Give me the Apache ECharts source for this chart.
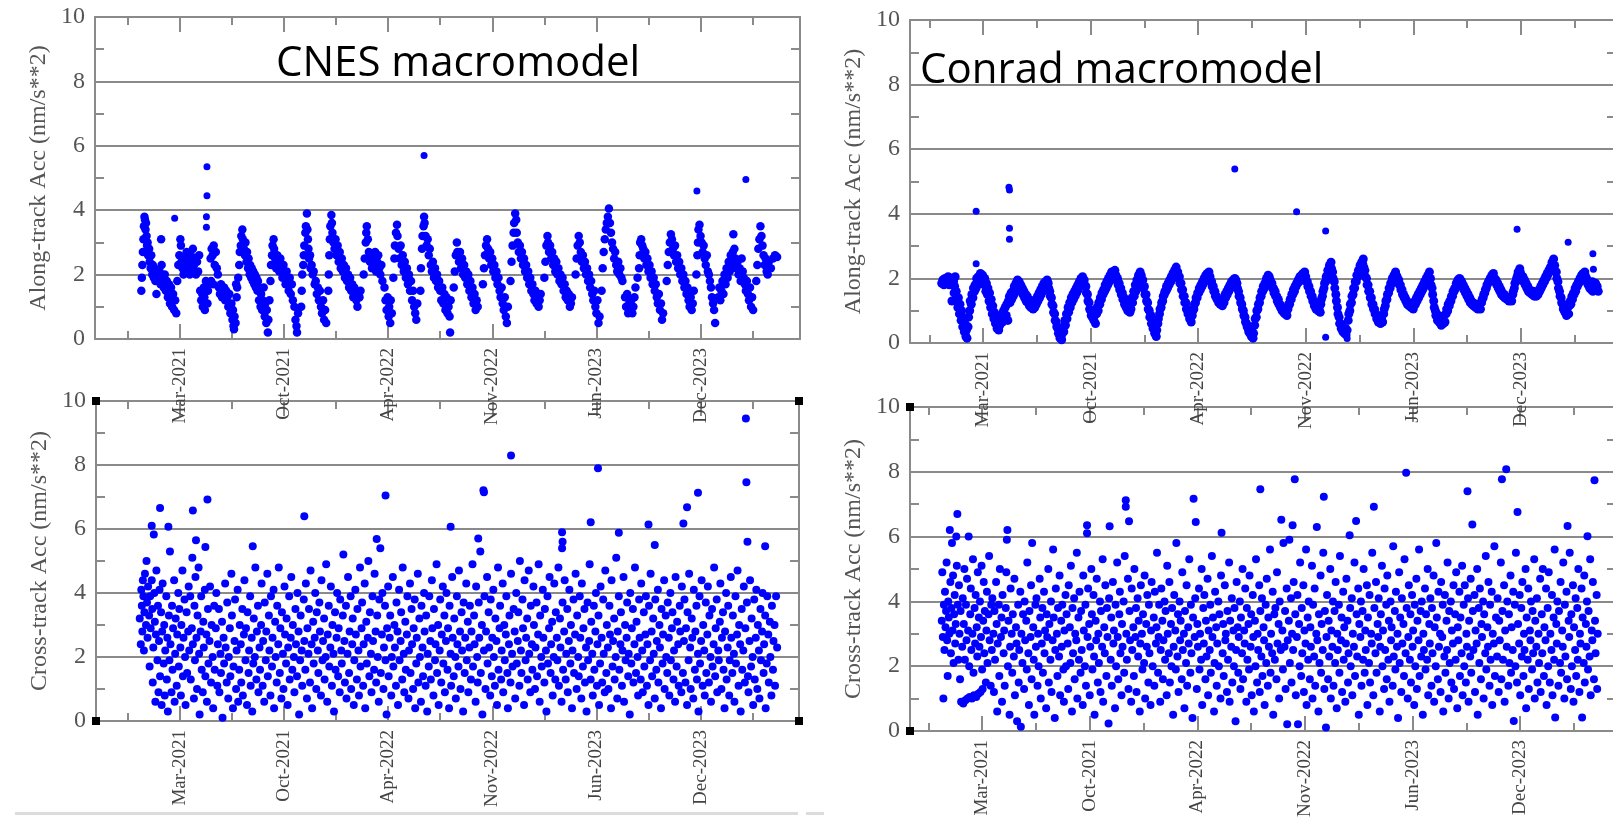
<!DOCTYPE html>
<html>
<head>
<meta charset="utf-8">
<script src="https://cdn.jsdelivr.net/npm/echarts@6/dist/echarts.min.js"></script>
<style>
  html, body { margin: 0; padding: 0; background: #fff; }
  #chart { width: 1613px; height: 818px; }
</style>
</head>
<body>
<div id="chart"></div>
<script>
// x values are days since 2021-01-01
const majorTickDays = [83, 283, 483, 683, 883, 1083]
const majorTickLabels = ['Mar-2021', 'Oct-2021', 'Apr-2022', 'Nov-2022', 'Jun-2023', 'Dec-2023']
const minorTickDays = [-17, 183, 383, 583, 783, 983, 1183]
const panelTitles = ['CNES macromodel', 'Conrad macromodel']
const yAxisNames = ['Along-track Acc (nm/s**2)', 'Cross-track Acc (nm/s**2)']

// CNES, along-track (main band)
const cnesAlong = [
  [9,1.5],[10,1.9],[11,2.3],[12,2.7],[13,3.1],[14,3.5],[15,3.8],[16,3.7],[17,3.4],[18,3.6],[19,3.2],[20,2.9],[21,3.0],[22,2.6],[24,2.8],[25,2.4],[27,2.2],[28,2.6],[30,2.0],[31,2.3],[33,1.9],[34,2.2],[36,1.8],[37,2.1],[38,1.4],[40,2.0],[42,1.8],[44,2.1],[46,1.7],[47,3.1],[48,2.3],[50,1.9],[52,1.6],[54,2.0],[56,1.5],[58,1.8],[60,1.3],[62,1.7],[64,1.1],[66,1.6],[68,1.0],[70,1.4],[72,0.9],[74,1.2],[76,0.8],
  [78,1.8],[80,2.3],[82,2.6],[84,3.1],[85,2.9],[86,2.4],[88,2.2],[90,2.0],[92,2.5],[94,2.3],[96,2.7],[98,2.1],[100,2.4],[102,2.0],[104,2.6],[106,2.2],[108,2.8],[110,2.3],[112,2.5],[114,2.0],[116,2.4],[118,2.1],[120,2.6],
  [122,1.5],[124,1.2],[126,1.4],[127,1.0],[129,1.6],[130,1.3],[131,0.9],[133,1.8],[136,1.1],[137,1.5],[139,1.7],[142,2.5],[143,1.8],[144,2.8],[146,2.6],[147,1.7],[148,2.9],[150,2.3],[152,2.7],[154,2.2],[156,2.0],
  [158,1.6],[160,1.4],[162,1.7],[164,1.3],[166,1.5],[168,1.6],[170,1.2],[172,1.5],[174,1.3],[176,1.0],[178,1.4],[180,0.8],[182,1.1],[184,0.6],[185,0.9],[186,0.4],[187,0.3],[188,0.7],[190,0.5],[191,1.7],[192,1.3],[193,1.6],
  [195,1.9],[197,2.3],[198,2.7],[200,2.9],[201,3.2],[203,3.4],[204,3.1],[206,2.8],[208,2.6],[209,3.0],[211,2.4],[212,2.7],[214,2.2],[215,2.5],[217,2.0],[218,2.3],[220,1.9],[221,2.2],[223,1.8],[224,2.1],[226,1.7],[227,2.0],[229,1.6],[230,1.9],[232,1.5],[233,1.8],[235,1.2],[236,1.6],[238,1.0],[239,1.4],[241,0.9],[242,1.2],[244,1.6],[246,0.7],[247,1.1],[249,0.5],[250,0.9],[252,0.2],[253,0.6],
  [255,1.2],[257,1.8],[258,2.3],[260,2.6],[261,2.9],[263,3.1],[264,2.8],[266,2.5],[268,2.2],[270,2.6],[272,2.4],[274,2.1],[276,2.5],[278,2.2],[280,1.9],[282,2.3],[284,2.0],[286,1.7],[288,2.1],[290,1.8],[292,1.5],[294,1.9],[296,1.4],[298,1.7],[300,1.2],[303,1.0],[305,0.6],[307,0.4],[308,0.2],[310,0.8],
  [316,1.0],[317,1.5],[318,2.0],[320,2.3],[321,2.6],[322,2.9],[324,3.3],[325,3.5],[327,3.9],[328,3.4],[329,3.1],[330,2.8],[331,2.5],[333,2.6],[334,2.2],[336,2.3],[338,2.0],[340,2.1],[342,1.7],[344,1.8],[346,1.4],[348,1.6],[350,1.2],[352,1.5],[354,1.0],[356,0.8],[358,1.2],[360,0.6],[362,0.9],[364,0.5],
  [368,1.5],[369,2.0],[370,2.6],[371,3.1],[372,3.5],[374,3.85],[375,3.6],[376,3.3],[378,3.0],[380,2.8],[382,3.1],[384,2.6],[386,2.9],[388,2.4],[390,2.7],[392,2.2],[394,2.5],[396,2.1],[398,2.3],[400,1.9],[402,2.2],[404,1.8],[406,2.0],[408,1.6],[410,1.9],[412,1.5],[414,1.7],[416,1.3],[418,1.6],[420,1.4],[422,1.2],[424,1.0],[426,1.4],[428,1.3],[430,1.5],
  [436,2.0],[438,2.5],[440,3.0],[441,3.3],[442,3.5],[444,3.1],[446,2.7],[448,2.4],[450,2.6],[452,2.2],[454,2.5],[456,2.3],[458,2.7],[460,2.1],[462,2.4],[464,2.6],[466,2.2],[468,2.0],[470,2.3],[472,1.8],
  [476,1.6],[478,1.2],[480,0.9],[482,1.3],[484,0.7],[485,1.0],[487,0.5],[488,1.2],[490,0.8],[493,1.9],[495,2.5],[496,2.9],[498,3.3],[500,3.55],[501,3.2],[503,2.8],[505,2.5],[507,2.9],[509,2.3],[511,2.6],[513,2.1],[515,2.4],[517,1.9],[519,2.2],[521,1.7],[523,2.0],[525,1.5],[527,1.8],[529,1.2],[531,1.5],[533,1.0],[535,0.8],[537,0.6],[539,1.1],
  [545,1.5],[546,2.2],[548,2.8],[549,3.2],[551,3.5],[552,3.8],[553,3.6],[555,3.2],[557,2.9],[559,3.1],[561,2.6],[563,2.8],[565,2.3],[567,2.1],[569,2.4],[571,1.9],[573,2.2],[575,1.8],[577,2.0],[579,1.6],[581,1.8],[583,1.5],[585,1.2],[587,1.6],[589,1.1],[591,1.4],[593,0.9],[595,1.3],[597,0.8],[599,1.0],[601,0.7],[602,0.2],[603,1.2],
  [609,1.6],[611,2.1],[613,2.6],[615,3.0],[616,2.7],[619,2.4],[621,2.7],[623,2.2],[625,2.5],[627,2.0],[629,2.3],[631,1.9],[633,2.1],[635,1.7],[637,2.0],[639,1.5],[641,1.8],[643,1.3],[645,1.6],[647,1.1],[649,1.4],[651,0.9],[653,1.2],[655,1.0],
  [665,1.7],[667,2.2],[669,2.6],[671,2.9],[673,3.1],[675,2.8],[677,2.5],[679,2.7],[681,2.3],[683,2.5],[685,2.1],[687,2.3],[689,1.9],[691,2.1],[693,1.7],[695,1.9],[697,1.5],[699,1.3],[701,1.6],[703,1.1],[705,0.9],[707,1.3],[709,0.7],[711,0.5],[713,1.0],
  [718,1.8],[720,2.4],[722,2.9],[724,3.3],[725,3.6],[727,3.9],[729,3.7],[730,3.3],[732,3.0],[734,2.7],[736,2.9],[738,2.5],[740,2.7],[742,2.3],[744,2.5],[746,2.1],[748,2.3],[750,1.9],[752,2.1],[754,1.7],[756,1.9],[758,1.5],[760,1.7],[762,1.4],[764,1.2],[766,1.5],[768,1.1],[770,1.3],[772,1.0],[774,1.2],[776,1.4],
  [783,1.9],[785,2.4],[787,2.9],[789,3.2],[790,3.0],[792,2.7],[794,2.9],[796,2.5],[798,2.7],[800,2.3],[802,2.5],[804,2.1],[806,2.4],[808,2.0],[810,2.2],[812,1.8],[814,2.0],[816,1.7],[818,1.9],[820,1.5],[822,1.7],[824,1.3],[826,1.5],[828,1.2],[830,1.4],[832,1.0],[834,1.1],[836,1.3],
  [843,2.0],[845,2.5],[847,2.9],[849,3.2],[851,3.0],[853,2.7],[855,2.4],[857,2.6],[859,2.2],[861,2.4],[863,2.0],[865,2.2],[867,1.8],[869,2.0],[871,1.6],[873,1.8],[875,1.4],[877,1.2],[879,1.5],[881,1.0],[883,0.8],[885,1.2],[887,0.5],[889,0.7],
  [893,1.5],[895,2.2],[897,2.7],[899,3.1],[901,3.4],[903,3.6],[905,3.8],[907,4.05],[909,3.6],[911,3.3],[913,3.0],[915,2.8],[917,2.5],[919,2.7],[921,2.3],[923,2.1],[925,2.4],[927,2.0],[929,2.2],[931,1.9],[933,1.8],
  [938,1.3],[940,1.0],[942,1.4],[944,0.8],[946,1.1],[948,0.9],[950,1.2],[952,0.8],[954,1.0],[956,1.3],[958,1.6],[962,1.9],[965,2.2],[966,2.6],[967,3.0],[969,3.1],[971,2.9],[973,2.8],[975,2.5],[977,2.7],[979,2.3],[981,2.5],[983,2.1],[985,2.3],[987,1.9],[989,2.1],[991,1.7],[993,1.9],[995,1.5],[997,1.7],[999,1.3],[1001,1.1],[1003,1.4],[1005,0.9],[1007,1.1],[1009,0.6],[1011,0.8],
  [1018,1.8],[1020,2.3],[1022,2.7],[1024,3.0],[1026,3.25],[1028,3.1],[1030,2.8],[1032,2.6],[1034,2.9],[1036,2.4],[1038,2.6],[1040,2.2],[1042,2.4],[1044,2.0],[1046,2.2],[1048,1.8],[1050,2.0],[1052,1.6],[1054,1.8],[1056,1.4],[1058,1.6],[1060,1.2],[1062,1.0],[1064,1.3],[1066,0.9],[1068,1.1],[1070,1.5],
  [1075,2.0],[1077,2.6],[1078,3.0],[1079,3.4],[1081,3.55],[1083,3.2],[1085,3.0],[1087,2.7],[1089,2.9],[1091,2.5],[1093,2.3],[1095,2.6],[1097,2.1],[1099,2.0],[1101,1.8],[1103,1.6],[1105,1.3],[1107,1.1],[1109,0.9],[1111,0.5],
  [1117,1.3],[1119,1.6],[1121,1.2],[1123,1.5],[1125,1.8],[1127,1.4],[1129,2.0],[1131,1.7],[1133,2.2],[1135,1.9],[1137,2.4],[1139,2.1],[1141,2.6],[1143,2.3],[1145,2.7],[1146,3.25],[1148,2.8],[1150,2.5],[1152,2.2],[1154,2.4],[1156,2.0],[1158,2.2],[1160,1.8],[1162,2.5],[1164,2.1],[1166,1.9],[1168,1.7],[1170,1.5],[1172,1.8],[1174,1.4],[1176,1.2],[1178,1.6],[1180,1.0],[1182,1.3],[1184,0.9],
  [1190,1.8],[1192,2.3],[1194,2.8],[1196,3.1],[1198,3.5],[1200,3.2],[1202,2.9],[1204,2.6],[1206,2.3],[1208,2.5],[1210,2.1],[1212,2.0],[1214,2.4],[1218,2.2],[1222,2.5],[1226,2.6],[1230,2.55]
]
// CNES, along-track: isolated points
const cnesAlongOutliers = [[73,3.75],[134,3.47],[134,3.8],[135,4.45],[135,5.35],[552,5.7],[1076,4.6],[1170,4.95]]

// Conrad, along-track (main band)
const conradAlong = [
  [6,1.85],[8,1.95],[10,1.8],[12,2.0],[14,1.85],[16,1.9],[18,2.05],[20,1.8],[22,1.95],[24,1.85],[25,1.3],[26,2.0],[28,1.9],[29,1.55],[30,1.75],[31,2.05],
  [33,1.6],[34,1.3],[36,1.1],[37,1.4],[39,0.9],[40,1.2],[42,0.7],[43,1.0],[45,0.5],[46,0.8],[48,0.35],[49,0.6],[51,0.2],[52,0.4],[53,0.15],
  [55,0.5],[56,0.8],[58,1.0],[59,1.3],[61,1.2],[62,1.5],[64,1.4],[65,1.7],[67,1.6],[68,1.8],[70,1.7],[71,2.0],[73,1.8],[74,2.05],[76,1.9],[78,2.15],[80,1.95],[82,2.1],[83,2.0],
  [85,1.8],[86,2.0],[88,1.6],[89,1.85],[91,1.5],[92,1.7],[94,1.3],[95,1.55],[97,1.1],[98,1.35],[100,0.9],[101,1.15],[103,0.75],[104,0.95],[106,0.6],[107,0.8],[109,0.45],[110,0.65],[112,0.4],[114,0.55],
  [116,0.7],[118,0.9],[119,0.65],[121,1.0],[122,0.75],[124,1.1],[126,0.85],[127,1.2],[129,0.7],[130,1.3],[132,1.45],[133,1.25],[135,1.55],[136,1.35],[138,1.6],[139,1.45],[141,1.75],[142,1.55],[144,1.85],[145,1.65],[147,1.95],[148,1.8],
  [150,1.9],[151,1.7],[153,1.8],[154,1.6],[156,1.7],[157,1.5],[159,1.6],[160,1.4],[162,1.5],[163,1.3],[165,1.45],[166,1.25],[168,1.35],[169,1.15],[171,1.3],[172,1.1],[174,1.2],[176,1.05],
  [178,1.25],[179,1.1],[181,1.35],[182,1.2],[184,1.45],[185,1.3],[187,1.55],[188,1.4],[190,1.65],[191,1.5],[193,1.75],[194,1.6],[196,1.85],[197,1.7],[199,1.9],[200,1.8],[202,1.95],
  [204,1.85],[205,1.7],[207,1.6],[208,1.45],[210,1.4],[211,1.2],[213,1.15],[214,0.95],[216,0.9],[217,0.7],[219,0.65],[220,0.5],[222,0.45],[223,0.3],[225,0.25],[226,0.15],[228,0.2],[229,0.1],[230,0.3],
  [232,0.5],[233,0.35],[235,0.7],[236,0.55],[238,0.9],[239,0.75],[241,1.1],[242,0.95],[244,1.25],[245,1.1],[247,1.4],[248,1.25],[250,1.5],[251,1.35],[253,1.6],[254,1.45],[256,1.7],[257,1.55],[259,1.8],[260,1.65],[262,1.9],[263,1.75],[265,2.0],[266,1.85],[268,2.05],[269,1.9],
  [271,1.95],[272,1.8],[274,1.75],[275,1.55],[277,1.5],[278,1.3],[280,1.25],[281,1.05],[283,1.0],[284,0.85],[286,0.8],[287,0.95],[289,0.7],[290,0.85],[292,0.6],
  [294,0.9],[295,1.1],[297,1.0],[298,1.25],[300,1.2],[301,1.4],[303,1.35],[304,1.55],[306,1.5],[307,1.65],[309,1.6],[310,1.8],[312,1.7],[313,1.9],[315,1.8],[316,2.0],[318,1.9],[319,2.1],[321,2.0],[322,2.2],[324,2.05],[325,2.2],[327,2.1],[328,2.25],
  [330,2.1],[331,1.95],[333,2.0],[334,1.8],[336,1.85],[337,1.65],[339,1.7],[340,1.5],[342,1.55],[343,1.35],[345,1.4],[346,1.2],[348,1.25],[349,1.1],[351,1.15],[352,1.0],[354,1.1],[356,0.95],
  [357,1.2],[358,1.05],[360,1.4],[361,1.25],[363,1.6],[364,1.45],[366,1.8],[367,1.6],[369,1.95],[370,1.8],[372,2.1],[373,1.95],[375,2.2],
  [377,2.1],[378,1.9],[380,1.95],[381,1.7],[383,1.75],[384,1.5],[386,1.5],[387,1.3],[389,1.25],[390,1.05],[392,1.0],[393,0.8],[395,0.85],[396,0.6],[398,0.65],[399,0.45],[401,0.5],[402,0.3],[404,0.35],[405,0.2],[406,0.4],
  [408,0.6],[409,0.75],[411,0.9],[412,1.05],[414,1.1],[415,1.25],[417,1.3],[418,1.45],[420,1.5],[421,1.6],[423,1.6],[424,1.75],[426,1.7],[427,1.85],[429,1.8],[430,1.95],[432,1.9],[433,2.05],[435,2.0],[436,2.15],[438,2.1],[439,2.25],[441,2.2],[442,2.35],[443,2.15],
  [445,2.2],[446,2.0],[448,2.05],[449,1.85],[451,1.85],[452,1.65],[454,1.65],[455,1.45],[457,1.45],[458,1.25],[460,1.25],[461,1.05],[463,1.05],[464,0.9],[466,0.9],[467,0.75],[469,0.8],[470,0.65],
  [472,0.85],[473,1.0],[475,1.05],[476,1.2],[478,1.25],[479,1.4],[481,1.4],[482,1.55],[484,1.55],[485,1.7],[487,1.65],[488,1.8],[490,1.75],[491,1.9],[493,1.85],[494,2.0],[496,1.95],[497,2.1],[499,2.0],[500,2.15],[502,2.05],[503,2.2],
  [505,2.05],[506,1.9],[508,1.9],[509,1.75],[511,1.75],[512,1.6],[514,1.6],[515,1.45],[517,1.45],[518,1.35],[520,1.35],[521,1.25],[523,1.3],[524,1.2],[526,1.25],[528,1.15],
  [530,1.35],[531,1.25],[533,1.5],[534,1.4],[536,1.6],[537,1.5],[539,1.7],[540,1.6],[542,1.8],[543,1.7],[545,1.9],[546,1.8],[548,1.95],[549,1.85],[551,2.0],[553,1.95],
  [555,1.85],[556,1.7],[558,1.6],[559,1.45],[561,1.4],[562,1.25],[564,1.2],[565,1.05],[567,1.0],[568,0.85],[570,0.8],[571,0.65],[573,0.6],[574,0.5],[576,0.45],[577,0.35],[579,0.3],[580,0.45],[582,0.2],[583,0.35],[585,0.15],[586,0.3],
  [588,0.55],[589,0.75],[591,0.8],[592,1.0],[594,1.05],[595,1.2],[597,1.25],[598,1.4],[600,1.45],[601,1.6],[603,1.6],[604,1.75],[606,1.7],[607,1.85],[609,1.85],[610,2.0],[612,1.95],[613,2.1],[615,2.05],
  [617,1.95],[618,1.8],[620,1.85],[621,1.7],[623,1.7],[624,1.55],[626,1.6],[627,1.45],[629,1.45],[630,1.3],[632,1.35],[633,1.2],[635,1.2],[636,1.1],[638,1.1],[639,1.0],[641,1.0],[642,0.95],[644,0.9],[646,1.0],[648,0.85],
  [650,1.05],[651,1.2],[653,1.2],[654,1.35],[656,1.35],[657,1.5],[659,1.5],[660,1.65],[662,1.6],[663,1.75],[665,1.75],[666,1.85],[668,1.85],[669,1.95],[671,1.9],[672,2.05],[674,2.0],[675,2.1],[677,2.0],[678,2.15],[680,2.05],[681,2.2],
  [683,2.05],[684,1.9],[686,1.9],[687,1.75],[689,1.75],[690,1.6],[692,1.6],[693,1.45],[695,1.45],[696,1.3],[698,1.3],[699,1.15],[701,1.2],[702,1.05],[704,1.1],[706,1.0],[708,1.05],[710,0.95],
  [711,1.2],[712,1.35],[714,1.45],[715,1.6],[717,1.7],[718,1.85],[720,1.9],[721,2.05],[723,2.1],[724,2.25],[726,2.25],[727,2.4],[729,2.35],[730,2.5],[731,2.3],
  [733,2.2],[734,2.0],[736,1.9],[737,1.7],[739,1.5],[740,1.3],[742,1.1],[743,0.9],[745,0.8],[746,0.6],[748,0.6],[749,0.45],[751,0.5],[752,0.35],[754,0.4],[755,0.3],[757,0.45],[758,0.25],[760,0.4],
  [762,0.7],[763,0.9],[765,1.0],[766,1.2],[768,1.25],[769,1.45],[771,1.5],[772,1.7],[774,1.7],[775,1.9],[777,1.9],[778,2.1],[780,2.05],[781,2.25],[783,2.2],[784,2.4],[786,2.3],[787,2.5],[789,2.45],[790,2.6],[791,2.35],
  [793,2.25],[794,2.05],[796,2.0],[797,1.8],[799,1.8],[800,1.6],[802,1.6],[803,1.4],[805,1.4],[806,1.2],[808,1.2],[809,1.05],[811,1.05],[812,0.9],[814,0.9],[815,0.75],[817,0.8],[818,0.65],[820,0.7],[822,0.6],[824,0.75],[826,0.65],
  [828,0.9],[829,1.05],[831,1.15],[832,1.3],[834,1.35],[835,1.5],[837,1.55],[838,1.7],[840,1.7],[841,1.85],[843,1.85],[844,2.0],[846,1.95],[847,2.1],[849,2.05],[850,2.2],[851,2.1],
  [853,2.05],[854,1.9],[856,1.95],[857,1.8],[859,1.8],[860,1.65],[862,1.65],[863,1.5],[865,1.5],[866,1.4],[868,1.4],[869,1.3],[871,1.3],[872,1.2],[874,1.25],[875,1.15],[877,1.2],[879,1.1],[881,1.2],[883,1.05],[884,1.15],
  [886,1.3],[887,1.2],[889,1.4],[890,1.3],[892,1.5],[893,1.4],[895,1.6],[896,1.5],[898,1.7],[899,1.6],[901,1.8],[902,1.7],[904,1.9],[905,1.8],[907,2.0],[908,1.9],[910,2.1],[911,2.0],[913,2.2],
  [915,2.0],[916,1.8],[918,1.7],[919,1.5],[921,1.3],[922,1.1],[924,1.0],[925,0.85],[927,0.9],[928,0.7],[930,0.8],[931,0.65],[933,0.7],[935,0.55],[937,0.75],[939,0.6],[940,0.85],[942,0.65],
  [944,0.9],[945,1.05],[947,1.0],[948,1.2],[950,1.15],[951,1.3],[953,1.3],[954,1.45],[956,1.45],[957,1.6],[959,1.6],[960,1.7],[962,1.7],[963,1.85],[965,1.8],[966,1.95],[968,1.9],[969,2.0],[971,1.95],
  [973,1.9],[974,1.75],[976,1.8],[977,1.65],[979,1.7],[980,1.55],[982,1.6],[983,1.45],[985,1.5],[986,1.35],[988,1.4],[989,1.25],[991,1.3],[992,1.2],[994,1.25],[995,1.15],[997,1.2],[999,1.1],[1001,1.2],[1003,1.05],[1005,1.15],[1008,1.05],
  [1010,1.25],[1011,1.35],[1013,1.4],[1014,1.5],[1016,1.55],[1017,1.65],[1019,1.7],[1020,1.8],[1022,1.85],[1023,1.9],[1025,1.95],[1026,2.0],[1028,2.0],[1029,2.1],[1031,2.05],[1032,2.15],
  [1034,2.0],[1035,1.9],[1037,1.95],[1038,1.8],[1040,1.85],[1041,1.7],[1043,1.75],[1044,1.6],[1046,1.65],[1047,1.5],[1049,1.55],[1050,1.45],[1052,1.5],[1053,1.4],[1055,1.45],[1057,1.35],[1059,1.4],[1061,1.3],[1063,1.4],[1066,1.3],
  [1068,1.5],[1069,1.6],[1071,1.7],[1072,1.85],[1074,1.9],[1075,2.0],[1077,2.1],[1078,2.2],[1080,2.15],[1081,2.3],[1082,2.2],
  [1084,2.1],[1085,2.0],[1087,2.05],[1088,1.9],[1090,1.95],[1091,1.8],[1093,1.85],[1094,1.7],[1096,1.75],[1097,1.6],[1099,1.65],[1100,1.55],[1102,1.6],[1104,1.5],[1106,1.6],[1108,1.45],[1110,1.55],[1112,1.45],[1115,1.5],
  [1117,1.65],[1118,1.6],[1120,1.75],[1121,1.7],[1123,1.85],[1124,1.8],[1126,1.95],[1127,1.9],[1129,2.05],[1130,2.0],[1132,2.15],[1133,2.1],[1135,2.25],[1136,2.2],[1138,2.35],[1139,2.3],[1141,2.5],[1142,2.4],[1144,2.6],
  [1146,2.4],[1147,2.2],[1149,2.2],[1150,2.0],[1152,1.9],[1153,1.7],[1155,1.6],[1156,1.45],[1158,1.4],[1159,1.25],[1161,1.2],[1162,1.05],[1164,1.1],[1165,0.95],[1167,1.0],[1168,0.85],[1170,1.1],[1172,0.9],[1173,1.15],
  [1175,1.3],[1176,1.2],[1178,1.45],[1179,1.35],[1181,1.55],[1182,1.5],[1184,1.7],[1185,1.6],[1187,1.8],[1188,1.75],[1190,1.9],[1191,1.85],[1193,2.0],[1194,1.95],[1196,2.1],[1197,2.05],[1199,2.15],[1200,2.1],[1202,2.2],
  [1204,2.05],[1205,1.9],[1207,1.95],[1208,1.8],[1210,1.85],[1211,1.7],[1213,1.75],[1214,1.65],[1216,1.9],[1217,1.6],[1219,1.8],[1220,1.65],[1222,1.85],[1223,1.7],[1225,1.75],[1227,1.6]
]
// Conrad, along-track: isolated points
const conradAlongOutliers = [[70,4.08],[70,2.45],[131,4.82],[132,4.74],[132,3.55],[132,3.21],[551,5.39],[666,4.06],[720,3.47],[720,0.18],[760,0.14],[1076,3.52],[1171,3.12],[1217,2.76],[1218,2.28]]

// CNES, cross-track
const cnesCross = [
  [6,3.2],[8,2.4],[9,4.1],[10,3.6],[11,2.8],[12,4.4],[13,3.9],[14,2.2],[15,3.4],[16,4.6],[18,3.0],[19,5.0],[20,3.7],[21,2.6],[22,4.2],[24,3.3],[25,1.7],[26,3.9],[27,2.9],[29,4.4],[29,6.1],[30,3.5],[31,1.2],[32,2.3],[33,5.83],[34,4.0],[35,3.1],[36,0.6],[37,2.7],[38,4.7],[40,1.9],[41,3.6],[42,0.9],[43,2.5],[44,4.1],[45,1.4],[45,6.66],
  [47,3.4],[48,0.5],[49,2.8],[50,4.3],[52,1.8],[53,3.0],[54,0.8],[55,2.2],[57,3.9],[58,1.3],[59,2.6],[60,0.3],[61,6.07],[62,3.3],[63,1.9],[64,5.3],[65,2.4],[67,0.9],[68,3.6],[69,1.6],[70,2.9],[72,4.4],[73,0.6],[74,2.1],[75,3.2],[77,1.1],[78,2.7],[80,4.0],[81,1.7],[82,3.5],[84,2.3],[85,0.8],[86,3.0],[88,4.7],[89,1.4],[90,2.6],[92,3.8],[93,2.0],[94,0.5],[96,3.4],[97,1.5],[99,2.8],[100,4.2],[101,2.2],
  [103,3.9],[104,1.3],[106,2.9],[107,5.1],[108,2.4],[108,6.58],[110,0.7],[111,3.6],[112,1.9],[113,4.5],[114,5.65],[115,2.6],[116,1.0],[117,3.3],[119,4.8],[120,2.1],[121,0.2],[123,2.8],[124,3.9],[125,1.6],[127,0.9],[128,3.1],[129,2.3],[131,4.1],[132,1.4],[132,5.44],[134,2.7],[135,0.6],[136,6.92],[137,3.5],[138,1.8],[140,2.5],[141,4.2],[143,1.2],[144,3.0],[146,2.0],[147,0.4],[149,3.6],[150,1.6],[152,2.9],[153,4.0],[155,1.1],[156,2.4],
  [158,3.5],[159,0.9],[161,2.1],[162,1.5],[164,3.1],[165,0.1],[167,2.6],[168,1.8],[170,4.3],[171,2.3],[173,1.2],[174,3.7],[176,0.7],[177,2.0],[179,2.9],[180,1.4],[182,4.6],[183,3.3],[185,0.4],[186,1.7],[188,2.5],[189,3.8],[191,1.0],[192,2.2],[194,4.1],[195,0.6],[197,1.6],[198,3.0],[200,2.4],[201,1.2],[203,3.5],[204,0.8],[206,2.7],[207,4.4],[209,1.9],[210,2.9],[212,0.5],[213,3.4],[215,1.5],[216,2.2],[218,3.9],[219,1.1],[221,2.6],[222,0.3],[223,5.46],[224,1.8],[225,3.2],[227,2.0],[228,4.8],[230,1.3],[231,2.8],[233,3.6],[234,0.9],[236,2.3],[237,1.6],
  [239,3.0],[240,4.3],[242,1.1],[243,2.5],[245,0.6],[246,3.7],[248,1.9],[249,2.8],[251,4.6],[252,1.4],[254,3.3],[255,2.2],[257,0.8],[258,3.9],[260,1.7],[261,2.6],[263,4.1],[264,0.4],[266,3.1],[267,2.0],[269,1.2],[270,3.6],[272,2.4],[273,4.8],[275,1.5],[276,2.9],[278,0.7],[279,3.4],[281,2.1],[282,1.0],[284,4.2],[285,2.7],[287,1.8],[288,3.2],[290,0.5],[291,2.3],[293,3.9],[294,1.3],[296,2.6],[297,4.5],[299,1.6],[300,3.0],[302,2.0],[303,0.9],[305,3.5],[306,2.4],[308,1.4],[309,4.0],[311,2.8],[312,0.2],[314,1.9],[315,3.3],[317,2.2],[318,1.1],
  [321,3.8],[322,2.5],[322,6.4],[324,1.6],[325,4.3],[327,0.7],[328,2.9],[330,2.1],[331,3.5],[333,1.2],[334,4.7],[336,2.4],[337,0.4],[339,3.1],[340,1.8],[342,2.6],[343,4.0],[345,1.0],[346,3.4],[348,2.2],[349,1.5],[351,3.7],[352,2.8],[354,0.8],[355,4.4],[357,1.9],[358,2.5],[360,3.2],[361,1.3],[363,2.0],[364,4.9],[366,0.6],[367,2.7],[369,3.6],[370,1.7],[372,2.3],[373,4.2],[375,1.1],[376,3.0],[378,2.1],[379,0.3],[381,3.4],[382,1.6],[384,2.6],[385,4.0],[387,1.4],[388,2.9],[390,0.9],[391,3.8],[393,2.2],[394,1.8],[396,3.3],[397,5.2],[399,2.5],[400,1.2],
  [402,3.6],[403,0.7],[405,2.1],[406,4.5],[408,1.5],[409,2.8],[411,3.9],[412,1.0],[414,2.4],[415,3.2],[417,0.5],[418,1.9],[420,4.1],[421,2.7],[423,1.3],[424,3.5],[426,2.2],[427,0.8],[429,4.8],[430,1.7],[432,2.9],[433,3.7],[435,1.1],[436,2.4],[438,4.3],[439,0.4],[441,3.1],[442,1.8],[444,2.6],[445,5.0],[447,1.4],[448,3.4],[450,2.1],[451,0.9],[453,3.9],[454,2.5],[456,1.6],[457,4.6],[459,2.8],[460,1.2],[461,5.69],[462,3.3],[463,2.0],[465,0.6],[466,3.8],[468,5.4],[469,1.5],[471,2.7],[472,4.0],[474,1.0],[475,2.3],[477,3.6],[478,1.9],[478,7.05],[480,0.2],[481,2.9],
  [483,4.2],[484,1.4],[486,2.6],[487,3.3],[489,0.8],[490,2.0],[492,4.5],[493,1.7],[495,3.0],[496,2.3],[498,1.1],[499,3.7],[501,2.8],[502,0.5],[504,4.1],[505,1.9],[507,2.5],[508,3.4],[510,1.3],[511,4.8],[513,2.1],[514,0.9],[516,3.1],[517,1.6],[519,2.7],[520,3.9],[522,0.7],[523,2.2],[525,4.3],[526,1.5],[528,3.5],[529,2.4],[531,1.0],[532,2.9],[534,3.8],[535,0.4],[537,1.8],[538,2.6],[540,4.6],[541,1.2],[543,3.2],[544,2.0],[546,0.6],[547,3.6],[549,2.3],[550,1.4],[552,4.0],[553,2.8],[555,1.1],[556,3.3],[558,0.3],[559,2.1],[561,1.7],[562,3.9],
  [564,2.5],[565,1.3],[567,4.4],[568,2.9],[570,0.8],[571,3.5],[573,1.9],[574,2.4],[576,4.9],[577,1.5],[579,3.0],[580,0.5],[582,2.2],[583,3.8],[585,1.2],[586,2.7],[588,4.2],[589,1.8],[591,3.3],[592,0.9],[594,2.5],[595,4.0],[597,1.6],[598,2.9],[600,0.4],[601,3.6],[603,2.1],[603,6.07],[604,1.1],[606,4.5],[607,2.6],[609,1.4],[610,3.2],[612,2.0],[613,0.7],[615,3.9],[616,2.4],[618,1.7],[619,4.7],[621,2.8],[622,1.0],[624,3.4],[625,2.2],[627,0.3],[628,3.7],[630,1.5],[631,2.6],[633,4.3],[634,1.9],[636,3.1],[637,0.9],[639,2.3],[640,3.6],[642,1.3],[643,2.8],
  [645,4.9],[646,1.7],[648,3.3],[649,2.4],[651,0.6],[652,4.2],[654,2.0],[655,1.2],[656,5.7],[657,3.7],[658,2.6],[660,5.3],[661,1.5],[663,3.0],[664,0.2],[666,7.21],[667,7.15],[667,2.2],[668,3.9],[670,1.0],[671,2.8],[673,4.5],[674,1.8],[676,3.4],[677,2.3],[679,0.8],[680,3.8],[682,1.4],[683,2.6],[685,4.1],[686,2.0],[688,1.1],[689,3.2],[691,2.5],[692,0.5],[694,4.8],[695,1.6],[697,2.9],[698,3.6],[700,1.3],[701,2.2],[703,4.3],[704,0.9],[706,3.0],[707,1.9],[709,2.7],[710,3.9],[712,1.5],[713,0.4],[715,2.4],[716,3.3],[718,1.2],[719,4.6],[719,8.3],[721,2.1],[722,1.7],[724,3.5],
  [726,2.8],[727,0.7],[729,4.0],[730,1.8],[732,2.5],[733,3.4],[735,1.1],[736,5.0],[738,2.2],[739,1.5],[741,3.8],[742,2.9],[744,0.5],[745,4.4],[747,1.9],[748,2.6],[750,3.2],[751,1.3],[753,4.7],[754,2.1],[756,0.9],[757,3.6],[759,2.4],[760,1.6],[762,4.2],[763,3.0],[765,1.0],[766,2.3],[768,3.7],[769,1.4],[771,2.7],[772,4.9],[774,0.6],[775,3.3],[777,2.0],[778,1.7],[780,4.1],[781,2.6],[783,1.2],[784,3.5],[786,2.2],[787,0.3],[789,3.9],[790,1.8],[792,2.9],[793,4.5],[795,1.5],[796,2.4],[798,3.1],[799,0.8],[801,2.0],[802,4.3],[804,1.3],[805,3.4],
  [807,2.6],[808,1.9],[810,4.8],[811,1.1],[813,3.2],[814,2.3],[816,0.6],[817,5.9],[817,5.4],[818,5.6],[818,3.7],[819,1.6],[821,2.8],[822,4.4],[824,1.3],[825,2.1],[827,3.5],[828,0.9],[830,2.5],[831,4.1],[833,1.8],[834,3.0],[836,0.4],[837,2.2],[839,3.8],[840,1.5],[842,2.7],[843,4.6],[845,1.0],[846,3.3],[848,2.0],[849,1.4],[851,3.9],[852,2.6],[854,0.7],[855,4.3],[857,1.7],[858,2.9],[860,3.5],[861,1.2],[863,2.3],[864,0.3],[866,3.7],[867,1.9],[869,2.5],[870,4.9],[872,1.3],[872,6.21],[873,3.1],[875,2.1],[876,0.8],[878,3.6],[879,1.6],[881,2.8],[882,4.0],[884,1.1],[885,2.4],
  [886,7.9],[887,3.3],[888,0.5],[890,1.8],[891,4.2],[893,2.6],[894,1.2],[896,3.8],[897,2.1],[899,0.9],[900,4.7],[902,1.5],[903,3.0],[905,2.3],[906,1.0],[908,3.6],[909,2.7],[911,0.4],[912,4.4],[914,1.7],[915,2.5],[917,3.2],[918,1.3],[920,2.0],[921,5.1],[923,0.7],[924,2.8],[926,3.9],[926,5.88],[927,1.6],[929,2.4],[930,3.4],[932,1.1],[933,2.2],[935,4.5],[936,0.6],[938,3.0],[939,1.9],[941,2.6],[942,3.7],[944,1.4],[945,2.1],[947,0.2],[948,4.0],[950,1.8],[951,2.9],[953,3.5],[954,1.2],[956,2.4],[957,4.8],[959,1.5],[960,3.1],[962,2.0],[963,0.8],[965,3.8],[966,2.6],
  [968,1.3],[969,4.3],[971,2.2],[972,0.9],[974,3.4],[975,1.7],[977,2.7],[978,3.9],[980,1.1],[981,2.4],[983,0.5],[983,6.14],[984,3.6],[986,1.9],[987,4.6],[989,2.8],[990,1.4],[992,3.2],[993,2.1],[995,0.7],[995,5.5],[996,3.8],[998,1.6],[999,2.5],[1001,4.1],[1002,1.2],[1004,3.0],[1005,2.3],[1007,0.4],[1008,3.5],[1010,1.8],[1011,2.7],[1013,4.4],[1014,1.0],[1016,3.3],[1017,2.0],[1019,1.5],[1020,3.7],[1022,2.6],[1023,0.8],[1025,4.0],[1026,1.9],[1028,2.9],[1029,3.4],[1031,1.3],[1032,2.2],[1034,0.6],[1035,4.5],[1037,1.7],[1038,3.1],[1040,2.4],[1041,1.1],[1043,3.6],[1044,2.8],[1046,0.9],[1047,4.2],
  [1049,1.5],[1050,6.17],[1051,2.5],[1052,3.8],[1054,1.2],[1055,2.9],[1057,0.5],[1057,6.68],[1058,3.4],[1060,1.9],[1061,4.6],[1063,2.3],[1064,1.0],[1066,3.2],[1067,2.6],[1069,0.7],[1070,4.1],[1072,1.6],[1073,2.8],[1075,3.6],[1076,1.3],[1078,2.1],[1078,7.13],[1079,0.3],[1081,3.9],[1082,1.8],[1084,2.5],[1085,4.4],[1087,1.1],[1088,3.0],[1090,2.2],[1091,0.8],[1093,3.7],[1094,1.5],[1096,2.7],[1097,4.2],[1099,1.2],[1100,3.3],[1102,2.0],[1103,0.6],[1105,3.5],[1106,1.7],[1108,2.4],[1109,4.8],[1111,1.4],[1112,2.9],[1114,3.8],[1115,0.9],[1117,2.2],[1118,1.9],[1120,3.1],[1121,4.3],[1123,1.0],[1124,2.6],[1126,3.4],[1127,1.6],[1129,0.4],
  [1130,2.8],[1132,4.0],[1133,1.3],[1135,2.3],[1136,3.6],[1138,0.8],[1139,1.9],[1141,4.5],[1142,2.6],[1144,1.5],[1145,3.3],[1147,2.1],[1148,0.6],[1150,3.9],[1151,1.8],[1153,2.7],[1154,4.7],[1156,1.1],[1157,3.0],[1159,2.4],[1160,0.3],[1162,3.5],[1163,1.6],[1165,2.2],[1166,4.2],[1168,1.2],[1169,2.9],[1170,9.45],[1171,7.46],[1172,3.7],[1173,5.6],[1174,1.4],[1175,0.9],[1177,2.5],[1178,4.4],[1180,1.7],[1181,3.2],[1183,2.0],[1184,0.5],[1186,3.8],[1187,1.3],[1189,2.6],[1190,4.1],[1192,1.0],[1193,3.0],[1195,2.2],[1196,0.7],[1198,3.5],[1199,1.9],[1201,2.8],[1202,4.0],[1204,1.5],[1205,2.4],[1207,3.3],[1207,5.46],[1208,0.4],[1210,1.8],[1211,3.9],[1213,2.7],[1214,1.2],[1216,3.1],[1217,2.0],[1219,0.8],[1220,3.6],[1222,1.6],[1223,2.5],[1225,3.0],[1226,1.1],[1228,3.9],[1230,2.3]
]

// Conrad, cross-track
const conradCross = [
  [8,3.4],[9,4.9],[10,2.9],[11,1.0],[12,3.9],[13,2.5],[14,4.3],[15,3.2],[16,3.7],[17,5.2],[18,2.8],[19,1.7],[20,4.0],[21,3.5],[22,3.0],[23,6.2],[24,4.6],[25,2.4],[26,3.8],[27,5.8],[28,3.1],[29,4.8],[30,2.1],[31,3.6],[32,4.2],[33,2.7],[34,3.3],[35,6.0],[36,5.1],[37,6.7],[38,3.9],[39,2.2],[40,4.5],[41,3.0],[42,1.6],[43,3.7],[44,0.9],
  [46,2.6],[47,4.1],[48,0.85],[49,3.3],[50,5.0],[51,2.2],[52,0.95],[53,3.9],[54,2.8],[55,4.7],[56,1.0],[57,3.1],[58,6.0],[59,2.0],[60,1.05],[61,3.6],[62,4.4],[63,2.5],[64,1.0],[65,3.0],[66,5.3],[67,1.8],[68,1.1],[69,3.8],[70,2.7],[71,4.2],[72,1.05],[73,3.2],[74,2.3],[75,4.9],[76,1.15],[77,3.5],[78,2.6],[79,4.0],[80,1.2],[81,2.9],[82,5.1],[83,1.9],[84,1.3],[85,3.4],[86,4.6],[87,2.4],[88,3.7],[90,1.5],[91,3.1],[92,4.3],[93,2.1],[95,3.6],[96,5.4],[97,2.8],[99,1.4],[100,3.9],
  [101,2.5],[102,4.1],[104,3.0],[105,1.2],[106,3.7],[107,2.2],[109,4.6],[110,3.3],[111,0.6],[112,2.7],[114,3.9],[115,1.7],[116,5.0],[118,2.9],[119,3.5],[120,0.9],[121,4.2],[123,2.4],[124,3.1],[125,1.4],[127,3.8],[128,4.9],[129,5.9],[130,6.2],[131,2.0],[132,3.4],[134,0.5],[135,2.6],[136,4.4],[138,3.0],[139,1.8],[140,3.6],[142,2.3],[143,4.7],[144,1.1],[146,3.2],[147,2.7],[148,0.3],[150,3.9],[151,1.5],[152,2.5],[154,4.3],[155,0.13],[156,3.0],[158,2.1],[159,3.6],
  [161,1.3],[162,4.0],[163,2.8],[165,3.4],[166,1.9],[167,5.2],[169,2.4],[170,0.8],[171,3.7],[173,2.9],[174,4.5],[175,1.6],[176,5.8],[178,3.2],[179,2.2],[180,0.5],[182,3.9],[183,2.6],[184,4.1],[186,1.4],[187,3.0],[188,2.0],[190,4.7],[191,3.5],[192,1.0],[194,2.7],[195,3.8],[196,1.8],[198,4.3],[199,2.4],[200,3.1],[202,0.7],[203,3.6],[204,2.9],[206,5.0],[207,1.5],[208,3.3],[210,2.2],[211,4.0],[212,1.2],[214,2.8],[215,5.6],[216,3.5],[218,0.4],[219,2.5],[220,4.4],[222,3.0],[223,1.7],[224,3.8],[226,2.3],[227,4.8],[228,1.1],[230,3.4],[231,2.6],[232,3.9],[234,1.9],[235,0.9],[236,3.1],[238,4.2],[239,2.0],
  [240,3.6],[242,2.7],[243,1.3],[244,4.5],[246,3.2],[247,2.1],[248,5.1],[250,0.6],[251,3.8],[252,2.4],[254,4.1],[255,1.6],[256,3.0],[258,2.8],[259,5.5],[260,1.0],[262,3.5],[263,2.2],[264,4.3],[266,1.8],[267,3.7],[268,2.5],[270,0.8],[271,4.8],[272,3.1],[274,2.0],[275,3.9],[276,1.4],[278,6.35],[278,6.1],[279,2.9],[280,4.4],[282,3.3],[283,1.1],[284,2.6],[286,5.0],[287,3.6],[288,1.9],[290,4.2],[291,2.3],[292,0.5],[294,3.4],[295,2.8],[296,4.7],[298,1.5],[299,3.0],[300,2.1],[302,4.0],[303,1.2],[304,3.7],[306,2.6],[307,5.3],[308,0.9],[310,3.2],[311,2.4],[312,4.5],[314,1.7],[315,3.8],[316,2.9],[318,0.23],[319,4.1],[320,6.32],
  [322,2.2],[323,3.5],[324,1.4],[326,4.6],[327,2.7],[328,3.1],[330,0.7],[331,3.9],[332,2.0],[334,5.2],[335,2.9],[336,1.6],[338,3.6],[339,4.3],[340,2.4],[342,1.1],[343,3.3],[344,2.6],[346,4.0],[347,1.8],[348,5.4],[350,7.12],[350,6.92],[351,3.0],[352,2.2],[354,4.7],[355,1.3],[356,6.47],[357,3.7],[358,2.8],[360,0.9],[361,4.4],[362,2.5],[364,3.2],[365,1.7],[366,5.0],[368,2.9],[369,3.8],[370,1.2],[372,4.1],[373,2.3],[374,3.4],[376,0.6],[377,2.7],[378,4.5],[380,3.0],[381,1.9],[382,3.6],[384,2.1],[385,4.8],[386,1.0],[388,3.3],[389,2.6],[390,4.2],[392,1.5],[393,3.9],[394,2.4],[396,0.8],[397,3.1],[398,4.6],
  [400,2.0],[402,3.5],[403,1.4],[404,4.3],[406,2.7],[407,3.2],[408,5.5],[410,1.8],[411,2.9],[412,3.9],[414,0.9],[415,2.5],[416,4.4],[418,3.4],[419,1.6],[420,2.8],[422,4.0],[423,2.2],[424,3.7],[426,1.1],[427,5.1],[428,3.0],[430,2.4],[431,4.6],[432,1.5],[434,3.3],[435,2.0],[436,3.8],[438,0.5],[439,2.6],[440,4.2],[442,3.1],[443,1.9],[444,5.8],[446,2.3],[447,3.6],[448,1.2],[450,4.0],[451,2.8],[452,3.4],[454,1.6],[455,4.9],[456,2.5],[458,3.0],[459,0.7],[460,3.7],[462,2.1],[463,4.5],[464,1.4],[466,3.2],[467,2.7],[468,5.3],[470,1.8],[471,3.9],[472,2.4],[474,0.4],[475,3.5],[476,7.17],[478,2.9],[479,4.1],[480,6.45],
  [482,1.3],[483,3.3],[484,2.6],[486,4.4],[487,1.9],[488,3.0],[490,2.2],[491,5.0],[492,0.8],[494,3.8],[495,2.7],[496,4.2],[498,1.6],[499,3.4],[500,2.3],[502,4.7],[503,1.1],[504,3.1],[506,2.5],[507,3.9],[508,1.8],[510,5.4],[511,2.9],[512,3.5],[514,0.6],[515,2.1],[516,4.3],[518,3.2],[519,1.4],[520,2.7],[522,4.0],[523,2.0],[524,3.6],[526,1.0],[527,4.8],[528,6.12],[530,2.4],[531,3.3],[532,1.7],[534,4.5],[535,2.8],[536,3.0],[538,1.2],[539,3.7],[540,2.2],[542,5.2],[543,0.9],[544,3.4],[546,2.6],[547,4.1],[548,1.5],[550,3.1],[551,2.0],[552,3.8],[554,0.3],[555,2.5],[556,4.6],[558,3.2],[559,1.8],
  [560,2.9],[562,4.0],[563,1.3],[564,3.5],[566,2.4],[567,5.0],[568,1.6],[570,3.1],[571,2.7],[572,4.4],[574,0.9],[575,3.8],[576,2.2],[578,3.3],[579,1.9],[580,4.8],[582,2.6],[583,3.6],[584,1.1],[586,4.2],[587,2.9],[588,0.6],[590,3.4],[591,2.0],[592,5.3],[594,1.5],[595,3.0],[596,2.5],[598,4.5],[599,1.2],[600,7.46],[600,3.7],[602,2.3],[603,4.1],[604,1.7],[606,3.2],[607,2.8],[608,0.8],[610,3.9],[611,2.1],[612,4.7],[614,1.4],[615,3.5],[616,2.6],[618,5.6],[619,1.8],[620,3.0],[622,2.4],[623,4.3],[624,0.5],[626,3.6],[627,2.2],[628,3.8],[630,1.6],[631,4.9],[632,2.7],[634,3.3],[635,1.0],[636,4.0],[638,2.5],[639,6.52],
  [641,3.1],[642,1.9],[643,5.8],[645,2.6],[646,3.7],[647,1.3],[649,4.4],[650,0.21],[651,2.8],[653,3.4],[654,5.9],[655,2.1],[657,4.1],[658,1.5],[659,3.0],[660,6.35],[661,2.5],[662,4.6],[664,7.77],[665,3.6],[666,1.1],[668,2.9],[669,4.2],[670,0.21],[672,3.3],[673,2.0],[674,5.2],[676,1.7],[677,3.8],[678,2.4],[680,4.5],[681,1.2],[682,3.1],[684,2.7],[685,5.6],[686,0.8],[688,3.5],[689,2.2],[690,4.0],[692,1.6],[693,3.2],[694,2.6],[696,5.1],[697,1.0],[698,3.9],[700,2.3],[701,4.4],[702,1.4],[704,3.0],[705,6.3],[706,2.8],[708,0.6],[709,3.6],[710,2.1],[712,4.8],[713,1.8],[714,3.3],[716,2.5],[717,5.5],[718,7.23],[719,1.3],[720,3.7],[722,0.11],
  [723,2.9],[724,4.2],[726,1.6],[727,3.4],[728,2.3],[730,5.0],[731,1.0],[732,3.1],[734,2.6],[735,4.0],[736,1.4],[738,3.7],[739,2.1],[740,4.6],[742,0.7],[743,3.0],[744,2.5],[746,3.9],[747,1.8],[748,5.4],[750,2.8],[751,3.5],[752,1.2],[754,4.3],[755,2.2],[756,3.2],[758,0.9],[759,2.7],[760,4.7],[762,3.4],[763,1.5],[764,2.4],[766,6.04],[767,3.8],[768,2.0],[770,4.1],[771,1.1],[772,3.0],[774,2.6],[775,5.2],[776,1.7],[778,6.48],[779,3.6],[780,2.3],[782,4.4],[783,0.5],[784,3.3],[786,2.9],[787,4.0],[788,1.4],[790,3.7],[791,2.2],[792,5.0],[794,1.8],[795,3.1],[796,2.5],[798,4.5],[799,0.8],
  [800,3.5],[802,2.1],[803,4.2],[804,1.5],[806,3.0],[807,2.7],[808,5.5],[810,1.1],[811,6.92],[812,3.8],[814,2.4],[815,4.6],[816,1.8],[818,3.3],[819,2.9],[820,4.1],[822,0.6],[823,2.6],[824,3.6],[826,5.1],[827,2.0],[828,3.1],[830,1.3],[831,4.4],[832,2.5],[834,3.9],[835,1.6],[836,4.8],[838,2.2],[839,3.4],[840,0.9],[842,4.0],[843,2.8],[844,3.2],[846,1.4],[847,5.7],[848,2.3],[850,3.7],[851,1.9],[852,4.3],[854,2.6],[855,3.0],[856,0.4],[858,4.9],[859,2.1],[860,3.5],[862,1.2],[863,4.1],[864,2.7],[866,3.3],[867,1.7],[868,5.3],[870,2.4],[871,7.97],[872,3.8],[874,1.0],[875,2.9],[876,4.5],[878,2.2],[879,3.6],
  [880,1.5],[882,4.2],[883,2.6],[884,3.1],[886,0.8],[887,3.9],[888,2.0],[890,4.7],[891,1.3],[892,3.4],[894,2.8],[895,5.6],[896,1.7],[898,3.7],[899,2.3],[900,4.0],[902,0.5],[903,3.0],[904,2.5],[906,4.4],[907,1.9],[908,3.6],[910,2.2],[911,5.0],[912,1.1],[914,3.3],[915,2.7],[916,4.1],[918,1.4],[919,3.8],[920,2.4],[922,4.8],[923,0.9],[924,3.2],[926,2.0],[927,5.8],[928,3.5],[930,1.6],[931,4.3],[932,2.6],[934,3.0],[935,1.2],[936,4.6],[938,2.9],[939,3.9],[940,0.6],[942,2.3],[943,4.2],[944,1.8],[946,3.4],[947,2.5],[948,5.2],[950,1.0],[951,3.7],[952,2.1],[954,4.0],[955,1.5],[956,3.1],[958,2.7],[959,4.5],
  [960,1.3],[962,3.6],[963,2.2],[964,4.9],[966,0.7],[967,3.2],[968,2.8],[970,4.3],[971,1.7],[972,3.5],[974,2.4],[975,5.1],[976,1.1],[978,3.9],[979,2.0],[980,4.5],[982,1.5],[983,3.0],[984,2.6],[985,7.4],[986,4.1],[987,0.9],[988,3.4],[990,2.3],[991,4.7],[992,1.8],[994,6.37],[995,3.7],[996,2.5],[998,4.2],[999,1.2],[1000,3.1],[1002,2.7],[1003,5.0],[1004,0.5],[1006,3.8],[1007,2.1],[1008,4.4],[1010,1.6],[1011,3.3],[1012,2.9],[1014,4.0],[1015,1.0],[1016,3.6],[1018,2.4],[1019,5.4],[1020,1.9],[1022,3.2],[1023,2.6],[1024,4.6],[1026,1.4],[1027,3.9],[1028,2.2],[1030,4.3],[1031,0.8],[1032,3.0],[1034,2.7],[1035,5.7],[1036,1.7],[1038,3.5],
  [1040,2.3],[1041,4.1],[1043,1.2],[1044,3.4],[1045,2.8],[1047,5.2],[1048,1.6],[1049,7.77],[1050,3.7],[1051,2.2],[1053,4.5],[1054,0.9],[1055,3.1],[1057,8.08],[1058,2.6],[1059,4.0],[1061,1.4],[1062,3.6],[1063,2.1],[1065,4.8],[1066,1.8],[1067,3.2],[1069,2.5],[1070,4.3],[1071,0.31],[1073,3.9],[1074,2.0],[1075,5.5],[1077,1.5],[1078,6.76],[1079,3.3],[1081,2.7],[1082,4.2],[1083,1.1],[1085,3.8],[1086,2.3],[1087,4.6],[1089,1.7],[1090,3.0],[1091,2.5],[1093,5.0],[1094,0.7],[1095,3.5],[1097,2.2],[1098,4.4],[1099,1.3],[1101,3.1],[1102,2.8],[1103,4.0],[1105,1.9],[1106,3.7],[1107,2.4],[1109,5.3],[1110,1.0],[1111,3.4],[1113,2.6],[1114,4.1],[1115,1.5],[1117,3.0],[1118,2.1],
  [1120,4.7],[1121,1.2],[1123,3.6],[1124,2.4],[1125,5.0],[1127,1.7],[1128,3.2],[1130,2.8],[1131,4.4],[1132,0.8],[1134,3.8],[1135,2.0],[1136,4.9],[1138,1.5],[1139,3.0],[1141,2.5],[1142,4.2],[1143,1.1],[1145,3.5],[1146,2.2],[1147,5.6],[1148,0.42],[1150,3.3],[1151,2.7],[1152,4.0],[1154,1.4],[1155,3.7],[1157,2.1],[1158,4.6],[1159,1.8],[1161,3.1],[1162,2.6],[1163,5.2],[1165,1.0],[1166,3.9],[1167,2.3],[1169,4.3],[1170,1.6],[1171,6.33],[1173,3.4],[1174,2.9],[1175,5.5],[1177,1.3],[1178,3.6],[1179,2.0],[1181,4.5],[1182,0.9],[1183,3.2],[1185,2.5],[1186,4.1],[1187,1.7],[1189,3.8],[1190,2.2],[1191,5.0],[1193,1.2],[1194,3.0],[1195,2.7],[1197,4.4],[1198,0.42],[1199,3.5],[1201,2.1],[1202,4.8],[1203,1.5],[1205,3.3],[1206,2.6],[1207,4.0],[1208,6.01],[1209,1.9],[1210,3.7],[1212,2.3],[1213,5.3],[1214,1.1],[1216,3.1],[1217,2.8],[1218,4.6],[1220,1.6],[1221,7.74],[1222,3.4],[1223,2.4],[1225,4.2],[1226,1.3],[1227,3.0]
]

const frameColor = '#8a8a8a'
const serif = 'Liberation Serif'

// panel boxes in pixels, x range in days
const panels = [
  { box: { left: 95, top: 17, width: 705, height: 322 }, xMin: -80, xMax: 1274, data: cnesAlong, size: 8.5, extra: cnesAlongOutliers, yName: yAxisNames[0] },
  { box: { left: 910, top: 20, width: 706, height: 323 }, xMin: -53, xMax: 1260, data: conradAlong, size: 9, extra: conradAlongOutliers, yName: yAxisNames[0] },
  { box: { left: 96, top: 401, width: 703, height: 320 }, xMin: -78, xMax: 1272, data: cnesCross, size: 8, extra: [], yName: yAxisNames[1] },
  { box: { left: 910, top: 407, width: 706, height: 324 }, xMin: -51, xMax: 1261, data: conradCross, size: 8, extra: [], yName: yAxisNames[1] }
]

const labelFor = (v) => {
  const k = majorTickDays.indexOf(v)
  return k >= 0 ? majorTickLabels[k] : ''
}

const grids = []
const xAxes = []
const yAxes = []
const series = []

panels.forEach((p, i) => {
  grids.push({ ...p.box, containLabel: false, outerBoundsMode: 'none' })

  const lineStyle = { color: frameColor, width: 2 }
  const xBase = { type: 'value', gridIndex: i, min: p.xMin, max: p.xMax, splitLine: { show: false } }
  const mainX = xAxes.length

  // bottom: frame, major ticks, labels
  xAxes.push({
    ...xBase, position: 'bottom',
    axisLine: { show: true, onZero: false, lineStyle },
    axisTick: { show: true, inside: true, length: 15, customValues: majorTickDays, lineStyle },
    axisLabel: {
      show: true, customValues: majorTickDays, rotate: 90, margin: 9,
      fontFamily: serif, fontSize: 19, color: '#444', formatter: labelFor
    }
  })
  // bottom minor ticks
  xAxes.push({
    ...xBase, position: 'bottom',
    axisLine: { show: false, onZero: false },
    axisTick: { show: true, inside: true, length: 8, customValues: minorTickDays, lineStyle },
    axisLabel: { show: false }
  })
  // top frame + ticks
  xAxes.push({
    ...xBase, position: 'top',
    axisLine: { show: true, onZero: false, lineStyle },
    axisTick: { show: true, inside: true, length: 15, customValues: majorTickDays, lineStyle },
    axisLabel: { show: false }
  })
  xAxes.push({
    ...xBase, position: 'top',
    axisLine: { show: false, onZero: false },
    axisTick: { show: true, inside: true, length: 8, customValues: minorTickDays, lineStyle },
    axisLabel: { show: false }
  })

  const mainY = yAxes.length
  yAxes.push({
    type: 'value', gridIndex: i, position: 'left', min: 0, max: 10, interval: 2,
    name: p.yName, nameLocation: 'middle', nameGap: 44,
    nameTextStyle: { fontFamily: serif, fontSize: 24, color: '#555' },
    axisLine: { show: true, onZero: false, lineStyle },
    axisTick: { show: false },
    axisLabel: { fontFamily: serif, fontSize: 24, color: '#555', margin: 10 },
    splitLine: { show: true, lineStyle }
  })
  yAxes.push({
    type: 'value', gridIndex: i, position: 'left', min: 0, max: 10, interval: 1,
    axisLine: { show: false, onZero: false },
    axisTick: { show: true, inside: true, length: 9, lineStyle },
    axisLabel: { show: false },
    splitLine: { show: false }
  })
  yAxes.push({
    type: 'value', gridIndex: i, position: 'right', min: 0, max: 10, interval: 1,
    axisLine: { show: true, onZero: false, lineStyle },
    axisTick: { show: true, inside: true, length: 9, lineStyle },
    axisLabel: { show: false },
    splitLine: { show: false }
  })

  series.push({
    type: 'scatter', xAxisIndex: mainX, yAxisIndex: mainY,
    data: p.data, symbol: 'circle', symbolSize: p.size,
    itemStyle: { color: '#0000ff', opacity: 1 }, silent: true
  })
  if (p.extra.length) {
    series.push({
      type: 'scatter', xAxisIndex: mainX, yAxisIndex: mainY,
      data: p.extra, symbol: 'circle', symbolSize: 7,
      itemStyle: { color: '#0000ff', opacity: 1 }, silent: true
    })
  }
})

// black corner handles on the lower panels, and the faint bottom rule
const handle = (cx, cy) => ({ type: 'rect', shape: { x: cx - 4, y: cy - 4, width: 8, height: 8 }, style: { fill: '#000' }, z: 100 })

const chart = echarts.init(document.getElementById('chart'))
chart.setOption({
  animation: false,
  backgroundColor: '#fff',
  grid: grids,
  xAxis: xAxes,
  yAxis: yAxes,
  series: series,
  graphic: [
    { type: 'text', style: { x: 276, y: 64, text: panelTitles[0], font: '42px "Open Sans"', fill: '#000', textVerticalAlign: 'middle' }, z: 100 },
    { type: 'text', style: { x: 920, y: 71, text: panelTitles[1], font: '42px "Open Sans"', fill: '#000', textVerticalAlign: 'middle' }, z: 100 },
    handle(96, 401), handle(96, 721), handle(799, 401), handle(799, 721),
    handle(910, 407), handle(910, 731),
    { type: 'rect', shape: { x: 15, y: 812, width: 783, height: 3 }, style: { fill: '#dcdcdc' } },
    { type: 'rect', shape: { x: 806, y: 812, width: 18, height: 3 }, style: { fill: '#dcdcdc' } }
  ]
})
</script>
</body>
</html>
